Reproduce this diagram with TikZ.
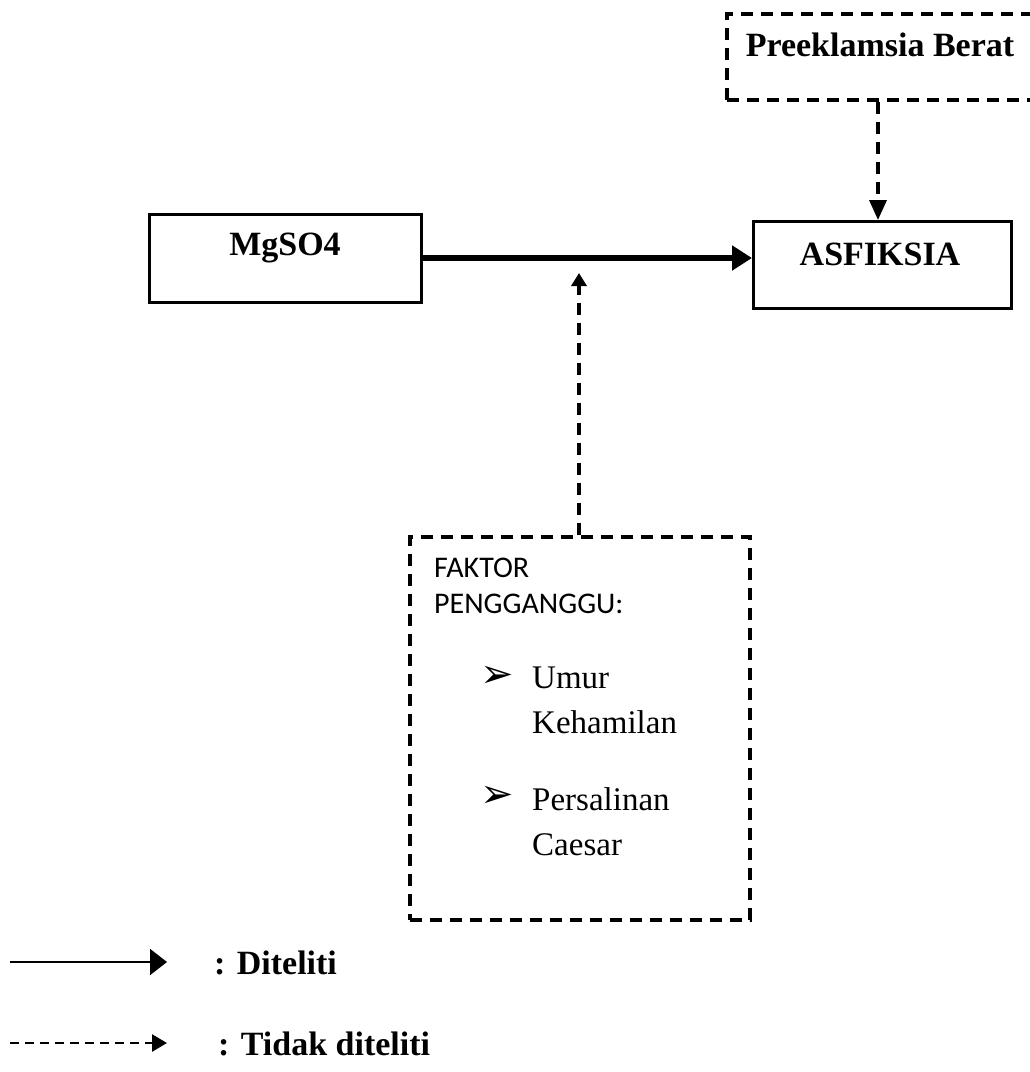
\documentclass[tikz,border=0pt]{standalone}
\usepackage{fontspec}
\setmainfont{Liberation Serif}
\newfontfamily\calfont{Carlito}
\newfontfamily\dejafont{DejaVu Sans}
\usetikzlibrary{arrows.meta}
\begin{document}
\begin{tikzpicture}[x=1pt,y=-1pt,
  dashbox/.style={draw, line width=3.5pt, dash pattern=on 12pt off 8pt},
  dashconn/.style={line width=3.5pt, dash pattern=on 12pt off 8pt},
  solidbox/.style={draw, line width=2.5pt},
  boldtxt/.style={font=\fontsize{34}{40}\selectfont\bfseries, inner sep=0pt},
  itemtxt/.style={font=\fontsize{33}{45}\selectfont, inner sep=0pt, anchor=north west, align=left},
  bullettxt/.style={inner sep=0pt, font=\dejafont\fontsize{40}{40}\selectfont},
  sanstxt/.style={font=\calfont\fontsize{30}{36}\selectfont, inner sep=0pt, anchor=north west, align=left}
]
\useasboundingbox (0,0) rectangle (1030,1072);
\fill[white] (0,0) rectangle (1030,1072);

% boxes
\node (pre) [dashbox, minimum width=320pt, minimum height=86pt, anchor=north west] at (725,12) {};
\node (pretext) [boldtxt] at (880,45) {Preeklamsia Berat};

\node (mg) [solidbox, minimum width=272pt, minimum height=88pt, anchor=north west] at (148,213) {};
\node (mgtext) [boldtxt] at (285,248) {MgSO4};

\node (asf) [solidbox, minimum width=258pt, minimum height=87pt, anchor=north west] at (752,220) {};
\node (asftext) [boldtxt] at (880,254) {ASFIKSIA};

\node (fak) [dashbox, minimum width=340pt, minimum height=383pt, anchor=north west] at (408,535) {};
\node (faktext) [sanstxt] at (434,558) {FAKTOR\\PENGGANGGU:};
\node (b1) [bullettxt] at (497,677) {➢};
\node (i1) [itemtxt] at (532,667) {Umur\\Kehamilan};
\node (b2) [bullettxt] at (497,797) {➢};
\node (i2) [itemtxt] at (532,787) {Persalinan\\Caesar};

% connectors
\draw[line width=6pt, -{Triangle[length=20pt,width=24pt]}] (mg.east |- 0,258) -- (asf.west |- 0,258);
\coordinate (tip) at (579,273);
\draw[dashconn, -{Triangle[length=13pt,width=15pt]}] (fak.north -| tip) -- (tip);
\draw[dashconn, -{Triangle[length=20pt,width=17pt]}] (pre.south -| 878,0) -- (asf.north -| 878,0);

% legend
\coordinate (l1a) at (10,962);
\coordinate (l1b) at (167,962);
\draw[line width=2pt, -{Triangle[length=17pt,width=26pt]}] (l1a) -- (l1b);
\node (l1t) [boldtxt, anchor=west] at (214,963) {: Diteliti};
\coordinate (l2a) at (10,1043);
\coordinate (l2b) at (167,1043);
\draw[line width=2.5pt, dash pattern=on 9pt off 6pt, -{Triangle[length=15pt,width=17pt]}] (l2a) -- (l2b);
\node (l2t) [boldtxt, anchor=west] at (218,1044) {: Tidak diteliti};
\end{tikzpicture}
\end{document}
